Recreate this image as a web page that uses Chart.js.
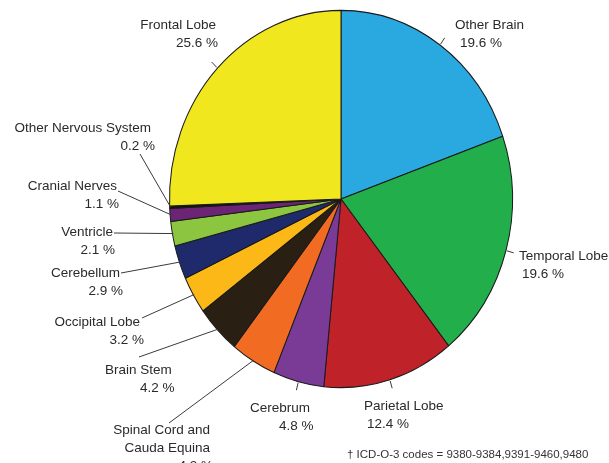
<!DOCTYPE html>
<html>
<head>
<meta charset="utf-8">
<script src="https://cdn.jsdelivr.net/npm/chart.js@4.4.1/dist/chart.umd.min.js"></script>
<style>
  body { margin: 0; background: #fff; }
  #wrap { width: 609px; height: 463px; position: relative; }
</style>
</head>
<body>
<div id="wrap"><canvas id="brainPie" width="609" height="463"></canvas></div>
<script>
// Slices, clockwise from 12 o'clock
const categories = [
    'Other Brain', 'Temporal Lobe', 'Parietal Lobe', 'Cerebrum',
    ['Spinal Cord and', 'Cauda Equina'], 'Brain Stem', 'Occipital Lobe',
    'Cerebellum', 'Ventricle', 'Cranial Nerves', 'Other Nervous System', 'Frontal Lobe'
];
const percents = [19.6, 19.6, 12.4, 4.8, 4.3, 4.2, 3.2, 2.9, 2.1, 1.1, 0.2, 25.6];
const sliceColors = [
    '#29a9df', '#22ae4a', '#c0222a', '#7a3b97',
    '#f26b22', '#2a1f13', '#fbb817', '#1f2a6c',
    '#8cc540', '#6b2574', '#111111', '#f1e71f'
];
const footnote = '\u2020 ICD-O-3 codes = 9380-9384,9391-9460,9480';

// where each label sits; tick = short radial mark, to = leader line end
const labelSpots = [
    { x: 455, y: 25, x2: 460, align: 'left', tick: true },
    { x: 519, y: 256, x2: 522, align: 'left', tick: true },
    { x: 364, y: 406, x2: 367, align: 'left', tick: true },
    { x: 250, y: 408, x2: 279, align: 'left', tick: true },
    { x: 210, y: 430, x2: 213, align: 'right', to: [169, 423] },
    { x: 105, y: 370, x2: 140, align: 'left', to: [139, 357] },
    { x: 140, y: 322, x2: 144, align: 'right', to: [142, 318] },
    { x: 120, y: 273, x2: 123, align: 'right', to: [121, 273] },
    { x: 113, y: 232, x2: 115, align: 'right', to: [114, 233] },
    { x: 117, y: 186, x2: 119, align: 'right', to: [118, 191] },
    { x: 151, y: 128, x2: 155, align: 'right', to: [140, 154] },
    { x: 216, y: 25, x2: 218, align: 'right', tick: true }
];

const SCALE_Y = 1.1;   // reference pie is slightly taller than wide
const FONT = '13.5px "Liberation Sans", Arial, sans-serif';

const stretchPlugin = {
    id: 'stretch',
    beforeDatasetsDraw(chart) {
        const arc = chart.getDatasetMeta(0).data[0];
        const ctx = chart.ctx;
        ctx.save();
        ctx.translate(arc.x, arc.y);
        ctx.scale(1, SCALE_Y);
        ctx.translate(-arc.x, -arc.y);
    },
    afterDatasetsDraw(chart) {
        chart.ctx.restore();
    }
};

const labelPlugin = {
    id: 'sliceLabels',
    afterDraw(chart) {
        const ctx = chart.ctx;
        const arcs = chart.getDatasetMeta(0).data;
        ctx.save();
        ctx.font = FONT;
        ctx.fillStyle = '#2a2a2a';
        ctx.strokeStyle = '#3a3a3a';
        ctx.lineWidth = 1;
        ctx.textBaseline = 'middle';

        arcs.forEach(function(arc, i) {
            const spot = labelSpots[i];
            const mid = (arc.startAngle + arc.endAngle) / 2;
            const r = arc.outerRadius;
            const edge = function(rr) {
                return [arc.x + Math.cos(mid) * rr, arc.y + Math.sin(mid) * rr * SCALE_Y];
            };

            ctx.beginPath();
            if (spot.tick) {
                const a = edge(r + 1), b = edge(r + 8);
                ctx.moveTo(a[0], a[1]);
                ctx.lineTo(b[0], b[1]);
            } else {
                const a = edge(r - 1);
                ctx.moveTo(a[0], a[1]);
                ctx.lineTo(spot.to[0], spot.to[1]);
            }
            ctx.stroke();

            const name = [].concat(categories[i]);
            ctx.textAlign = spot.align;
            name.forEach(function(line, k) {
                ctx.fillText(line, spot.x, spot.y + k * 18);
            });
            ctx.fillText(percents[i].toFixed(1) + ' %', spot.x2, spot.y + name.length * 18);
        });

        ctx.font = '11.5px "Liberation Sans", Arial, sans-serif';
        ctx.fillStyle = '#333';
        ctx.textAlign = 'left';
        ctx.fillText(footnote, 347, 455);
        ctx.restore();
    }
};

new Chart(document.getElementById('brainPie'), {
    type: 'pie',
    data: {
        labels: categories,
        datasets: [{
            data: percents,
            backgroundColor: sliceColors,
            borderColor: '#1a1a1a',
            borderWidth: 1,
            clip: false
        }]
    },
    options: {
        responsive: false,
        animation: false,
        layout: {
            padding: { left: 169, right: 96, top: 27, bottom: 92 }
        },
        plugins: {
            legend: { display: false },
            tooltip: { enabled: false }
        }
    },
    plugins: [stretchPlugin, labelPlugin]
});
</script>
</body>
</html>
